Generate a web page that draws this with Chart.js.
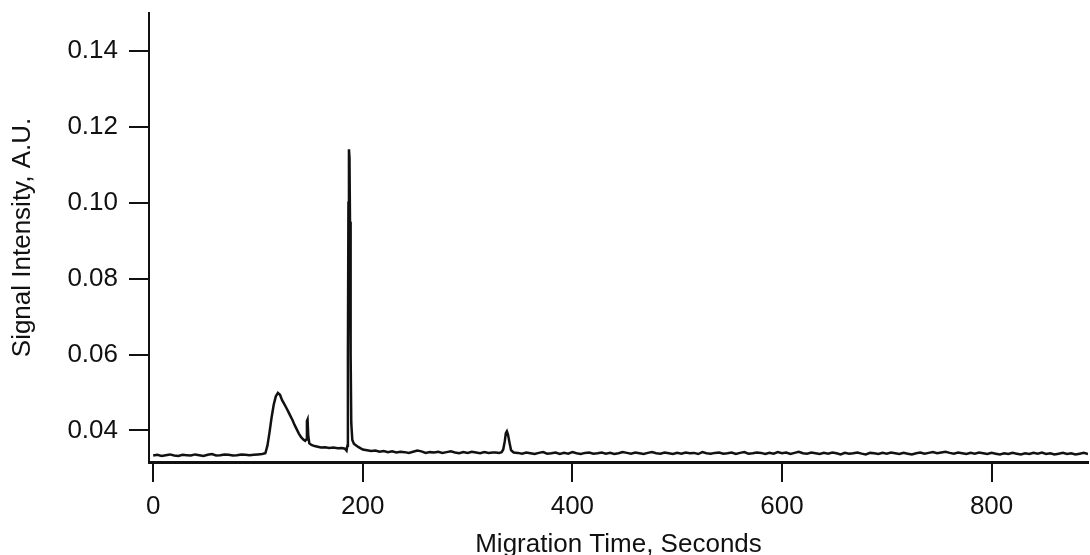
<!DOCTYPE html>
<html>
<head>
<meta charset="utf-8">
<script src="https://cdn.jsdelivr.net/npm/chart.js@4.4.1/dist/chart.umd.min.js"></script>
<style>
html,body{margin:0;padding:0;background:#fff;}
#wrap{width:1090px;height:555px;}
</style>
</head>
<body>
<div id="wrap"><canvas id="c" width="1090" height="555"></canvas></div>
<script>
// Migration time (s)
const times = [
  0,4,8,12,16,20,24,28,32,36,40,44,48,52,56,60,64,68,72,76,80,84,88,92,96,100,104,
  107,109,111,113,115,117,119,121,123,125,127,129,131,133,135,137,139,141,143,145,146,146.7,147.3,148,149,151,154,157,160,164,168,172,176,180,183,184.5,
  185.3,185.8,186.3,186.8,187.3,187.8,188.4,189,190,191.5,193,
  196,200,204,208,212,216,220,224,228,232,236,240,244,248,252,256,260,264,268,272,276,280,284,288,292,296,300,304,308,312,316,320,324,
  327,330,332.5,334,335.5,336.5,337.5,338.5,340,341.5,344,
  348,352,356,360,364,368,372,376,380,384,
  388,392,396,400,404,408,412,416,420,424,
  428,432,436,440,444,448,452,456,460,464,
  468,472,476,480,484,488,492,496,500,504,
  508,512,516,520,524,528,532,536,540,544,
  548,552,556,560,564,568,572,576,580,584,
  588,592,596,600,604,608,612,616,620,624,
  628,632,636,640,644,648,652,656,660,664,
  668,672,676,680,684,688,692,696,700,704,
  708,712,716,720,724,728,732,736,740,744,
  748,752,756,760,764,768,772,776,780,784,
  788,792,796,800,804,808,812,816,820,824,
  828,832,836,840,844,848,852,856,860,864,
  868,872,876,880,884,888,892
];
// Signal intensity (A.U.)
const signal = [
  0.0334,0.0336,0.0333,0.0335,0.0337,0.0334,0.0333,0.0336,0.0335,0.0334,0.0337,0.0335,0.0333,0.0336,0.0338,0.0334,0.0335,0.0337,0.0336,0.0334,0.0335,0.0337,0.0336,0.0335,0.0336,0.0337,0.0338,
  0.0340,0.0360,0.0395,0.0435,0.0468,0.0490,0.0499,0.0494,0.0480,0.0470,0.0460,0.0449,0.0438,0.0427,0.0414,0.0403,0.0392,0.0383,0.0377,0.0373,0.0376,0.0425,0.0429,0.0385,0.0366,0.0362,0.0359,0.0357,0.0355,0.0356,0.0354,0.0355,0.0353,0.0354,0.0352,0.0347,
  0.0360,0.0600,0.1000,0.1141,0.1120,0.0950,0.0600,0.0420,0.0375,0.0365,0.0362,
  0.0356,0.0350,0.0348,0.0346,0.0347,0.0344,0.0346,0.0343,0.0345,0.0342,0.0344,0.0343,0.0341,0.0344,0.0347,0.0345,0.0341,0.0343,0.0342,0.0344,0.0341,0.0343,0.0345,0.0342,0.0340,0.0343,0.0341,0.0344,0.0342,0.0340,0.0343,0.0341,0.0342,
  0.0342,0.0341,0.0343,0.0350,0.0372,0.0393,0.0398,0.0390,0.0368,0.0348,0.0342,
  0.0341,0.0339,0.0342,0.0340,0.0338,0.0341,0.0343,0.0339,0.0340,0.0342,
  0.0338,0.0341,0.0339,0.0343,0.0340,0.0338,0.0341,0.0342,0.0339,0.0340,
  0.0342,0.0339,0.0341,0.0338,0.0340,0.0343,0.0341,0.0339,0.0342,0.0340,
  0.0338,0.0341,0.0343,0.0340,0.0339,0.0342,0.0340,0.0338,0.0341,0.0339,
  0.0342,0.0340,0.0341,0.0338,0.0343,0.0340,0.0339,0.0341,0.0342,0.0339,
  0.0340,0.0342,0.0338,0.0341,0.0343,0.0339,0.0340,0.0342,0.0341,0.0338,
  0.0341,0.0339,0.0343,0.0340,0.0342,0.0338,0.0341,0.0344,0.0340,0.0339,
  0.0342,0.0340,0.0338,0.0341,0.0339,0.0342,0.0340,0.0337,0.0341,0.0339,
  0.0340,0.0342,0.0339,0.0337,0.0341,0.0340,0.0338,0.0341,0.0339,0.0342,
  0.0340,0.0338,0.0341,0.0339,0.0337,0.0340,0.0342,0.0339,0.0341,0.0343,
  0.0340,0.0342,0.0344,0.0341,0.0339,0.0342,0.0340,0.0338,0.0341,0.0339,
  0.0342,0.0340,0.0338,0.0341,0.0339,0.0337,0.0340,0.0338,0.0341,0.0339,
  0.0337,0.0340,0.0338,0.0341,0.0339,0.0342,0.0338,0.0340,0.0337,0.0339,
  0.0341,0.0338,0.0340,0.0337,0.0339,0.0341,0.0338
];
const xTickValues = [0, 200, 400, 600, 800];
const yTickValues = [0.04, 0.06, 0.08, 0.10, 0.12, 0.14];

const points = times.map((t, i) => ({x: t, y: signal[i]}));
const fontSpec = {family: "'Liberation Sans', Arial, sans-serif", size: 26, lineHeight: 1};
const ink = '#111';

new Chart(document.getElementById('c'), {
  type: 'line',
  data: {
    datasets: [{
      data: points,
      borderColor: '#111',
      borderWidth: 2.5,
      pointRadius: 0,
      tension: 0,
      fill: false
    }]
  },
  options: {
    responsive: false,
    animation: false,
    layout: {padding: {top: 13, right: 2, left: 0, bottom: 0}},
    plugins: {legend: {display: false}, tooltip: {enabled: false}},
    scales: {
      x: {
        type: 'linear',
        min: -4,
        max: 892,
        afterBuildTicks: s => { s.ticks = xTickValues.map(v => ({value: v})); },
        afterFit: s => { s.height = 93; s.paddingLeft = 0; s.paddingRight = 0; },
        grid: {drawOnChartArea: false, drawTicks: true, tickLength: 20, color: '#111', lineWidth: 2},
        border: {display: true, color: '#111', width: 3},
        ticks: {font: fontSpec, color: ink, padding: 12, maxRotation: 0, autoSkip: false,
                callback: v => String(v)},
        title: {display: true, text: 'Migration Time, Seconds', font: fontSpec, color: ink,
                padding: {top: 0, bottom: -3}}
      },
      y: {
        type: 'linear',
        min: 0.0317,
        max: 0.15,
        afterBuildTicks: s => { s.ticks = yTickValues.map(v => ({value: v})); },
        afterFit: s => { s.width = 149; s.paddingTop = 0; s.paddingBottom = 0; },
        grid: {drawOnChartArea: false, drawTicks: true, tickLength: 20, color: '#111', lineWidth: 2},
        border: {display: true, color: '#111', width: 2},
        ticks: {font: fontSpec, color: ink, padding: 11, autoSkip: false,
                callback: v => Number(v).toFixed(2)},
        title: {display: true, text: 'Signal Intensity, A.U.', font: fontSpec, color: ink,
                padding: {top: 10, bottom: 0}}
      }
    }
  }
});
</script>
</body>
</html>
